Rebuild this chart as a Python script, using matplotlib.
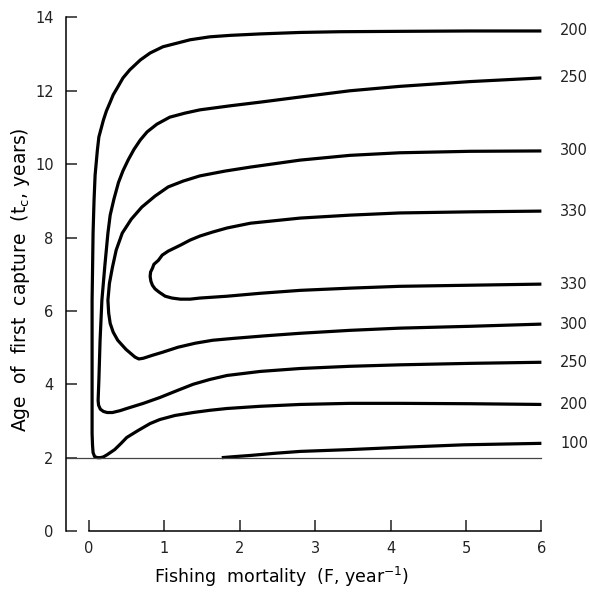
"""Yield isopleths: age of first capture vs fishing mortality."""
import matplotlib
matplotlib.use("Agg")
import matplotlib.pyplot as plt

# isopleth traces (F in year^-1, tc in years)
iso_200_F = [6.0, 5.05, 4.12, 3.33, 2.8, 2.27, 1.87, 1.6, 1.34, 1.17, 0.98, 0.81, 0.68,
             0.54, 0.45, 0.38, 0.32, 0.28, 0.23, 0.19, 0.13, 0.11, 0.08, 0.066, 0.053,
             0.046, 0.04, 0.04, 0.04, 0.046, 0.053, 0.073, 0.11, 0.15, 0.19, 0.24, 0.34,
             0.42, 0.5, 0.65, 0.81, 0.94, 1.14, 1.38, 1.6, 1.83, 2.27, 2.8, 3.46, 4.12,
             5.05, 6.0]
iso_200_t = [13.63, 13.63, 13.62, 13.61, 13.59, 13.55, 13.51, 13.47, 13.39, 13.3, 13.2,
             13.03, 12.84, 12.57, 12.35, 12.1, 11.89, 11.69, 11.45, 11.2, 10.74, 10.38,
             9.7, 9.02, 8.12, 7.11, 6.29, 4.11, 2.66, 2.33, 2.14, 2.03, 2.0, 2.0, 2.02,
             2.08, 2.22, 2.38, 2.55, 2.74, 2.93, 3.04, 3.15, 3.23, 3.29, 3.34, 3.4, 3.45,
             3.48, 3.48, 3.47, 3.45]

iso_250_F = [6.0, 5.05, 4.12, 3.46, 2.8, 2.27, 1.87, 1.47, 1.27, 1.07, 0.9, 0.77, 0.68,
             0.595, 0.52, 0.45, 0.39, 0.33, 0.28, 0.25, 0.21, 0.17, 0.146, 0.13, 0.12,
             0.126, 0.15, 0.19, 0.24, 0.31, 0.41, 0.5, 0.72, 0.94, 1.17, 1.38, 1.6, 1.83,
             2.27, 2.8, 3.46, 4.12, 5.05, 6.0]
iso_250_t = [12.35, 12.25, 12.12, 12.0, 11.83, 11.69, 11.59, 11.48, 11.39, 11.28, 11.09,
             10.88, 10.66, 10.4, 10.12, 9.82, 9.5, 9.05, 8.61, 8.12, 7.25, 6.29, 5.2,
             4.11, 3.56, 3.43, 3.32, 3.26, 3.23, 3.23, 3.28, 3.34, 3.48, 3.64, 3.83, 4.0,
             4.13, 4.24, 4.35, 4.43, 4.49, 4.53, 4.57, 4.6]

iso_300_F = [6.0, 5.05, 4.12, 3.46, 2.8, 2.14, 1.8, 1.47, 1.25, 1.05, 0.875, 0.7, 0.56,
             0.44, 0.36, 0.31, 0.27, 0.25, 0.26, 0.28, 0.32, 0.38, 0.49, 0.61, 0.66, 0.72,
             0.84, 0.97, 1.18, 1.41, 1.64, 1.91, 2.33, 2.8, 3.46, 4.12, 5.05, 6.0]
iso_300_t = [10.36, 10.35, 10.31, 10.24, 10.11, 9.92, 9.81, 9.68, 9.54, 9.38, 9.13, 8.83,
             8.5, 8.12, 7.66, 7.19, 6.75, 6.29, 5.94, 5.66, 5.42, 5.2, 4.95, 4.74, 4.69,
             4.71, 4.79, 4.87, 5.01, 5.12, 5.2, 5.25, 5.32, 5.39, 5.47, 5.53, 5.58, 5.64]

iso_330_F = [6.0, 5.05, 4.12, 3.46, 2.8, 2.14, 1.83, 1.64, 1.47, 1.34, 1.21, 1.05, 0.97,
             0.92, 0.86, 0.84, 0.816, 0.81, 0.82, 0.84, 0.875, 0.93, 1.01, 1.1, 1.21,
             1.34, 1.47, 1.83, 2.27, 2.8, 3.46, 4.12, 5.05, 6.0]
iso_330_t = [8.72, 8.7, 8.67, 8.61, 8.53, 8.39, 8.26, 8.15, 8.04, 7.93, 7.79, 7.63, 7.52,
             7.38, 7.27, 7.16, 7.06, 6.94, 6.81, 6.7, 6.6, 6.51, 6.4, 6.35, 6.32, 6.32,
             6.35, 6.4, 6.48, 6.56, 6.62, 6.67, 6.7, 6.73]

iso_100_F = [1.76, 1.94, 2.14, 2.47, 2.8, 3.46, 4.12, 4.97, 6.0]
iso_100_t = [2.0, 2.03, 2.06, 2.12, 2.17, 2.22, 2.28, 2.35, 2.39]

# labels at the right-hand end of each branch
label_text = ["200", "250", "300", "330", "330", "300", "250", "200", "100"]
label_t = [13.63, 12.35, 10.36, 8.72, 6.73, 5.64, 4.6, 3.46, 2.39]

tc_min = 2.0
x_ticks = [0, 1, 2, 3, 4, 5, 6]
y_ticks = [0, 2, 4, 6, 8, 10, 12, 14]

plt.rcParams["font.family"] = ["DejaVu Sans"]

fig = plt.figure(figsize=(5.9, 5.92), dpi=100)
ax = fig.add_axes([0.112, 0.103, 0.812, 0.88])

for F, t in [(iso_200_F, iso_200_t), (iso_250_F, iso_250_t), (iso_300_F, iso_300_t),
             (iso_330_F, iso_330_t), (iso_100_F, iso_100_t)]:
    ax.plot(F, t, color="black", lw=2.3, solid_joinstyle="round",
            solid_capstyle="butt", clip_on=False)

ax.plot([-0.305, 6.0], [tc_min, tc_min], color="#444444", lw=0.9, clip_on=False)

for txt, t in zip(label_text, label_t):
    ax.text(6.25, t, txt, ha="left", va="center", fontsize=10.5, color="#222222")

ax.set_xlim(-0.305, 6.05)
ax.set_ylim(0, 14.2)
for s in ("top", "right"):
    ax.spines[s].set_visible(False)
ax.spines["left"].set_bounds(0, 14)
ax.spines["bottom"].set_bounds(0, 6)
ax.spines["left"].set_linewidth(1.1)
ax.spines["bottom"].set_linewidth(1.1)

ax.set_xticks(x_ticks)
ax.set_yticks(y_ticks)
ax.tick_params(direction="in", length=8, width=1.1, labelsize=10.5, colors="#222222")
ax.tick_params(axis="x", pad=7)
ax.tick_params(axis="y", pad=9)

fig.text(0.477, 0.025, "Fishing  mortality  (F, year$^{-1}$)", ha="center",
         va="center", fontsize=12.5)
fig.text(0.035, 0.527, "Age  of  first  capture  (t$_\\mathregular{c}$, years)",
         ha="center", va="center", rotation=90, fontsize=13.5)

fig.savefig("out.png", dpi=100)
